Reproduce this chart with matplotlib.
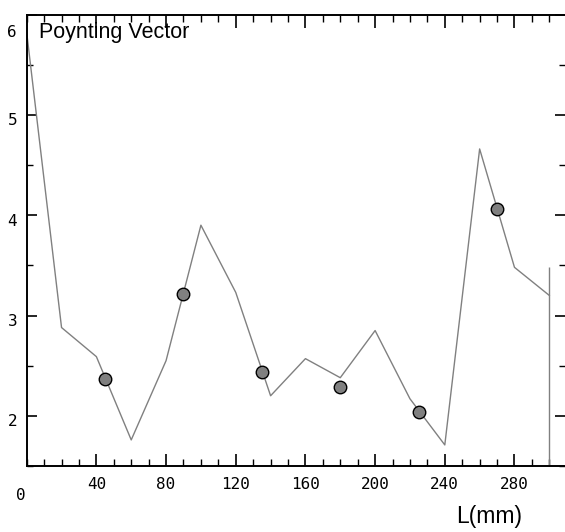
import matplotlib
matplotlib.use("Agg")
import matplotlib.pyplot as plt
from matplotlib.ticker import MultipleLocator, FixedLocator
from matplotlib import font_manager

# Data
line_x = [0, 20, 40, 60, 80, 100, 120, 140, 160, 180, 200, 220, 240, 260, 280, 300]
line_y = [5.82, 2.88, 2.59, 1.76, 2.55, 3.90, 3.23, 2.20, 2.57, 2.38, 2.85, 2.17, 1.71, 4.66, 3.48, 3.20]
marker_x = [45, 90, 135, 180, 225, 270]
marker_y = [2.37, 3.21, 2.44, 2.29, 2.04, 4.06]
xtick_vals = [40, 80, 120, 160, 200, 240, 280]
ytick_vals = [2, 3, 4, 5, 6]
title_text = "Poynting Vector"
xlabel_text = "L(mm)"

names = {f.name for f in font_manager.fontManager.ttflist}
narrow = "Liberation Sans Narrow" if "Liberation Sans Narrow" in names else "Liberation Sans"

fig = plt.figure(figsize=(5.65, 5.32), dpi=100)
ax = fig.add_axes([26.7/565, 66/532, (565-26.7)/565, 451.5/532])
ax.set_xlim(0, 309)
ax.set_ylim(1.5, 6.0)

ax.plot(line_x, line_y, color="#808080", lw=1.0, zorder=2)
ax.vlines(line_x[-1], 1.5, line_y[-2], color="#808080", lw=1.0, zorder=2)
ax.plot(marker_x, marker_y, ls="none", marker="o", ms=9,
        mfc="#808080", mec="black", mew=1.0, zorder=3)

for s in ["left", "bottom", "top"]:
    ax.spines[s].set_linewidth(1.4)
ax.spines["right"].set_visible(False)

ax.xaxis.set_major_locator(FixedLocator(xtick_vals))
ax.xaxis.set_minor_locator(MultipleLocator(10))
ax.yaxis.set_major_locator(FixedLocator(ytick_vals))
ax.yaxis.set_minor_locator(MultipleLocator(0.5))
ax.tick_params(axis="x", which="major", direction="in", length=9, width=1.2,
               top=True, bottom=True, labelbottom=False)
ax.tick_params(axis="x", which="minor", direction="in", length=5, width=1.0,
               top=True, bottom=True)
ax.tick_params(axis="y", which="major", direction="in", length=7, width=1.2,
               left=True, right=True, labelleft=False)
ax.tick_params(axis="y", which="minor", direction="in", length=4, width=1.0,
               left=True, right=True)

mono = "DejaVu Sans Mono"
for v in xtick_vals:
    ax.text(v, -0.04, str(v), transform=ax.get_xaxis_transform(),
            ha="center", va="center", fontsize=11.5, family=mono)
ax.text(-3.5, -0.065, "0", transform=ax.get_xaxis_transform(),
        ha="center", va="center", fontsize=11.5, family=mono)
for v in ytick_vals:
    yy = v - 0.06 if v < 6 else 5.82
    ax.text(-5.5, yy, str(v), ha="right", va="center", fontsize=11.5,
            family=mono, clip_on=False)

ax.text(7, 5.82, title_text, ha="left", va="center", fontsize=15.5,
        family=narrow)
fig.text(489/565, 1-517/532, xlabel_text, ha="center", va="center",
         fontsize=16.5, family=narrow)

fig.savefig("out.png", dpi=100)
